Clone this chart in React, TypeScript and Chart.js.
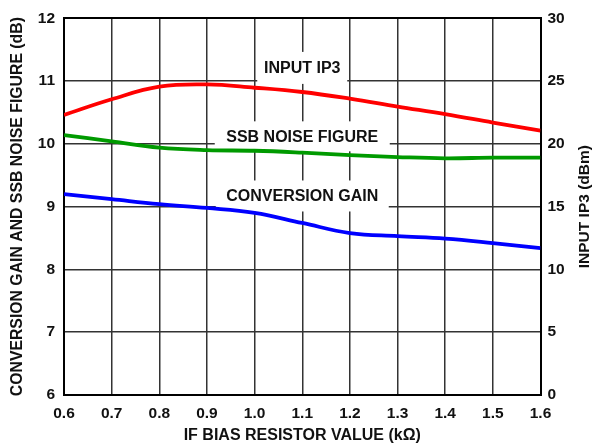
import React, { useEffect, useRef } from "react";
import { Chart, registerables } from "chart.js";

Chart.register(...registerables);

const resistorK = [0.6, 0.7, 0.8, 0.9, 1.0, 1.1, 1.2, 1.3, 1.4, 1.5, 1.6];
const inputIP3 = [22.3, 23.55, 24.55, 24.73, 24.47, 24.13, 23.6, 22.97, 22.37, 21.7, 21.05];
const ssbNoiseFigure = [10.14, 10.04, 9.94, 9.9, 9.89, 9.86, 9.82, 9.79, 9.77, 9.78, 9.78];
const conversionGain = [9.2, 9.12, 9.04, 8.98, 8.9, 8.74, 8.58, 8.53, 8.49, 8.42, 8.34];

const xTicks = [0.6, 0.7, 0.8, 0.9, 1.0, 1.1, 1.2, 1.3, 1.4, 1.5, 1.6];
const leftTicks = [6, 7, 8, 9, 10, 11, 12];
const rightTicks = [0, 5, 10, 15, 20, 25, 30];

const seriesNames = ["INPUT IP3", "SSB NOISE FIGURE", "CONVERSION GAIN"];
const labelX = [1.1, 1.1, 1.1];
const labelY = [11.21, 10.12, 9.17];
const rightTitle = "INPUT IP3 (dBm)";

const FONT = '"Liberation Sans", Arial, Helvetica, sans-serif';

const labelPlugin = {
  id: "seriesLabels",
  beforeDatasetsDraw(chart: any) {
    const { ctx } = chart;
    const xs = chart.scales.x;
    const ys = chart.scales.y;
    const boxW = [90, 175, 173];
    const boxH = [32, 30, 31];
    ctx.save();
    seriesNames.forEach((name, i) => {
      const cx = xs.getPixelForValue(labelX[i]);
      const cy = ys.getPixelForValue(labelY[i]);
      ctx.fillStyle = "#ffffff";
      ctx.fillRect(cx - boxW[i] / 2, cy - boxH[i] / 2, boxW[i], boxH[i]);
      ctx.fillStyle = "#111111";
      ctx.font = `bold 16px ${FONT}`;
      ctx.textAlign = "center";
      ctx.textBaseline = "middle";
      ctx.fillText(name, cx, cy + 1);
    });
    ctx.restore();
  },
  afterDraw(chart: any) {
    const { ctx, chartArea } = chart;
    ctx.save();
    ctx.translate(585, (chartArea.top + chartArea.bottom) / 2);
    ctx.rotate(-Math.PI / 2);
    ctx.fillStyle = "#111111";
    ctx.font = `bold 15.5px ${FONT}`;
    ctx.textAlign = "center";
    ctx.textBaseline = "middle";
    ctx.fillText(rightTitle, 0, 0);
    ctx.restore();
  },
};

export default function App() {
  const ref = useRef<HTMLCanvasElement>(null);
  useEffect(() => {
    if (!ref.current) return;
    const mk = (ys: number[]) => resistorK.map((x, i) => ({ x, y: ys[i] }));
    const tickFont = { family: FONT, size: 15.5, weight: "bold" as const };
    const chart = new Chart(ref.current, {
      type: "line",
      data: {
        datasets: [
          {
            label: seriesNames[0],
            data: mk(inputIP3),
            yAxisID: "y2",
            borderColor: "#ff0000",
            borderWidth: 3.8,
            pointRadius: 0,
            tension: 0.4,
          },
          {
            label: seriesNames[1],
            data: mk(ssbNoiseFigure),
            yAxisID: "y",
            borderColor: "#009a00",
            borderWidth: 3.8,
            pointRadius: 0,
            tension: 0.4,
          },
          {
            label: seriesNames[2],
            data: mk(conversionGain),
            yAxisID: "y",
            borderColor: "#0000ff",
            borderWidth: 3.8,
            pointRadius: 0,
            tension: 0.4,
          },
        ],
      },
      options: {
        responsive: false,
        animation: false,
        layout: { padding: { top: 15, left: 0, right: 0, bottom: 0 } },
        plugins: { legend: { display: false }, tooltip: { enabled: false } },
        scales: {
          x: {
            type: "linear",
            min: 0.6,
            max: 1.6,
            afterBuildTicks: (s: any) => {
              s.ticks = xTicks.map((v) => ({ value: v }));
            },
            afterFit: (s: any) => {
              s.height = 52;
            },
            ticks: {
              color: "#111",
              font: tickFont,
              padding: 9,
              maxRotation: 0,
              autoSkip: false,
              callback: (v: any) => Number(v).toFixed(1),
            },
            grid: { color: "#333", lineWidth: 1.5, drawTicks: false },
            border: { color: "#000", width: 2 },
            title: {
              display: true,
              text: "IF BIAS RESISTOR VALUE (kΩ)",
              color: "#111",
              font: { family: FONT, size: 16, weight: "bold" as const },
              padding: { top: 0, bottom: 1.5 },
            },
          },
          y: {
            type: "linear",
            position: "left",
            min: 6,
            max: 12,
            afterBuildTicks: (s: any) => {
              s.ticks = leftTicks.map((v) => ({ value: v }));
            },
            afterFit: (s: any) => {
              s.width = 64;
            },
            ticks: { color: "#111", font: tickFont, padding: 9 },
            grid: {
              color: (c: any) => (c.tick && c.tick.value === 12 ? "#000" : "#333"),
              lineWidth: (c: any) => (c.tick && c.tick.value === 12 ? 2 : 1.5),
              drawTicks: false,
            },
            border: { color: "#000", width: 2 },
            title: {
              display: true,
              text: "CONVERSION GAIN AND SSB NOISE FIGURE (dB)",
              color: "#111",
              font: { family: FONT, size: 15.8, weight: "bold" as const },
              padding: { top: 8.5, bottom: 0 },
            },
          },
          y2: {
            type: "linear",
            position: "right",
            min: 0,
            max: 30,
            afterBuildTicks: (s: any) => {
              s.ticks = rightTicks.map((v) => ({ value: v }));
            },
            afterFit: (s: any) => {
              s.width = 69.5;
            },
            ticks: { color: "#111", font: tickFont, padding: 7 },
            grid: { drawOnChartArea: false, drawTicks: false },
            border: { color: "#000", width: 2 },
            title: { display: false },
          },
        },
      },
      plugins: [labelPlugin],
    });
    return () => chart.destroy();
  }, []);
  return (
    <div style={{ position: "absolute", left: 0, top: 0, width: 610, height: 447, background: "#fff" }}>
      <canvas ref={ref} width={610} height={447} style={{ display: "block" }} />
    </div>
  );
}
